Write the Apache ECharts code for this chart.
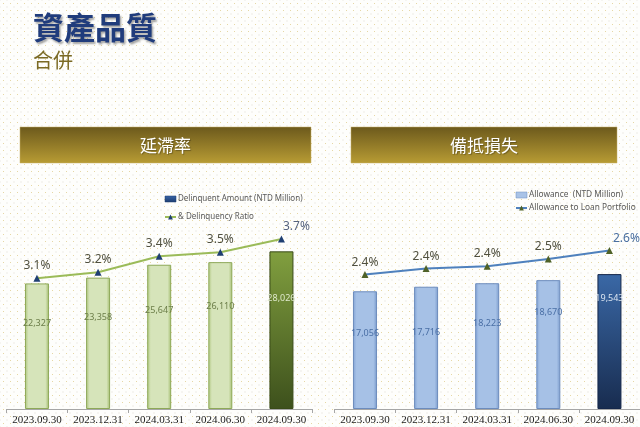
<!DOCTYPE html>
<html>
<head>
<meta charset="utf-8">
<script src="https://cdn.jsdelivr.net/npm/echarts@6/dist/echarts.min.js"></script>
<style>
html,body{margin:0;padding:0;width:640px;height:427px;overflow:hidden;}
body{
  background-color:#fefefc;
  background-image:
    radial-gradient(circle, #e6d7a4 0.7px, rgba(255,255,255,0) 1px),
    radial-gradient(circle, #dedbd0 0.7px, rgba(255,255,255,0) 1px);
  background-size:7px 7px, 7px 7px;
  background-position:0 0, 3.5px 3.5px;
}
#chart{width:640px;height:427px;}
</style>
</head>
<body>
<div id="chart"></div>
<script>
// ---- data ----
var categories = ['2023.09.30', '2023.12.31', '2024.03.31', '2024.06.30', '2024.09.30'];
var delinquentAmount = [22327, 23358, 25647, 26110, 28026];
var delinquencyRatio = [3.11, 3.20, 3.44, 3.50, 3.70];
var allowanceAmount = [17056, 17716, 18223, 18670, 19543];
var allowanceRatio = [2.37, 2.42, 2.44, 2.50, 2.57];
var pageTitle = '資產品質';
var pageSubtitle = '合併';
var leftHeader = '延滯率';
var rightHeader = '備抵損失';
var leftBarName = 'Delinquent Amount (NTD Million)';
var leftLineName = '& Delinquency Ratio';
var rightBarName = 'Allowance  (NTD Million)';
var rightLineName = 'Allowance to Loan Portfolio';

// ---- styles ----
var leftLabelPos = ['32%', '30%', '32%', '30%', '30%'];
var rightLabelPos = ['36%', '37%', '32%', '25%', '18%'];

function grad(stops, horiz) {
  return new echarts.graphic.LinearGradient(0, 0, horiz ? 1 : 0, horiz ? 0 : 1,
    stops.map(function (s) { return { offset: s[0], color: s[1] }; }));
}
var greenLight = grad([[0, '#adc57c'], [0.15, '#d6e4ba'], [0.85, '#d6e4ba'], [1, '#a3bc6e']], true);
var greenDark = grad([[0, '#819f3f'], [1, '#3d501c']]);
var blueLight = grad([[0, '#83a4d6'], [0.15, '#a6c1e6'], [0.85, '#a6c1e6'], [1, '#7b9ccd']], true);
var blueDark = grad([[0, '#3a68a6'], [1, '#182c4f']]);

function fmtNum(v) { return v.toLocaleString('en-US'); }

function barData(values, posArr, lightFill, darkFill, lightBorder, darkBorder, lightText, darkText) {
  return values.map(function (v, i) {
    var last = i === values.length - 1;
    return {
      value: v,
      itemStyle: { color: last ? darkFill : lightFill, borderColor: last ? darkBorder : lightBorder, borderWidth: 1 },
      label: { position: ['50%', posArr[i]], color: last ? darkText : lightText }
    };
  });
}
function lineData(values, lastColor, lastOffset) {
  return values.map(function (v, i) {
    var last = i === values.length - 1;
    var d = { value: v };
    if (last) d.label = { color: lastColor, offset: [lastOffset, 0] };
    return d;
  });
}

var chart = echarts.init(document.getElementById('chart'), null, { renderer: 'canvas' });

var axisCommon = {
  type: 'category',
  data: categories,
  axisLine: { lineStyle: { color: '#a6a6a6', width: 1 } },
  axisTick: { show: true, length: 4, lineStyle: { color: '#a6a6a6' } },
  axisLabel: { fontFamily: 'Liberation Serif', fontSize: 11, color: '#1a1a1a', margin: 6, interval: 0 }
};

var option = {
  animation: false,
  backgroundColor: 'transparent',
  grid: [
    { left: 6.4, width: 305.6, top: 184, height: 225 },
    { left: 334.4, width: 305.6, top: 184, height: 225 }
  ],
  xAxis: [
    Object.assign({ gridIndex: 0 }, axisCommon),
    Object.assign({ gridIndex: 1 }, axisCommon)
  ],
  yAxis: [
    { gridIndex: 0, type: 'value', min: 0, max: 40000, show: false },
    { gridIndex: 0, type: 'value', min: 1.15, max: 4.525, show: false },
    { gridIndex: 1, type: 'value', min: 0, max: 32600, show: false },
    { gridIndex: 1, type: 'value', min: 1.25, max: 3.125, show: false }
  ],
  legend: [
    {
      orient: 'vertical', left: 164, top: 195, padding: 0, itemGap: 10, itemWidth: 11, itemHeight: 6,
      textStyle: { fontFamily: 'Noto Sans', fontSize: 8, color: '#595959', padding: [0, 0, 0, -3] },
      data: [
        { name: leftBarName, icon: 'rect', itemStyle: { color: grad([[0, '#3a67a8'], [1, '#1c3c70']]), borderColor: '#1c3c70', borderWidth: 0.5 } },
        { name: leftLineName }
      ]
    },
    {
      orient: 'vertical', left: 515, top: 191, padding: 0, itemGap: 5, itemWidth: 11, itemHeight: 6,
      textStyle: { fontFamily: 'Noto Sans', fontSize: 8.3, color: '#595959', padding: [0, 0, 0, -3] },
      data: [
        { name: rightBarName, icon: 'rect', itemStyle: { color: '#a9c3e7', borderColor: '#6f8fbf', borderWidth: 0.5 } },
        { name: rightLineName }
      ]
    }
  ],
  series: [
    {
      name: leftBarName, type: 'bar', xAxisIndex: 0, yAxisIndex: 0, barWidth: 24,
      itemStyle: { color: '#d8e5be' },
      label: { show: true, formatter: function (p) { return fmtNum(p.value); }, align: 'center', verticalAlign: 'middle', fontFamily: 'Noto Sans', fontSize: 9 },
      data: barData(delinquentAmount, leftLabelPos, greenLight, greenDark, '#8ea958', '#394b18', '#6b7d48', '#dfe9cb')
    },
    {
      name: leftLineName, type: 'line', xAxisIndex: 0, yAxisIndex: 1,
      color: '#9bbb59',
      lineStyle: { color: '#9bbb59', width: 2 },
      symbol: 'triangle', symbolSize: 7,
      itemStyle: { color: '#1f3f72' },
      label: { show: true, position: 'top', distance: 3, formatter: function (p) { return p.value.toFixed(1) + '%'; }, fontFamily: 'Noto Sans', fontSize: 12, color: '#50503f' },
      data: lineData(delinquencyRatio, '#56637e', 15)
    },
    {
      name: rightBarName, type: 'bar', xAxisIndex: 1, yAxisIndex: 2, barWidth: 24,
      itemStyle: { color: '#a9c3e7' },
      label: { show: true, formatter: function (p) { return fmtNum(p.value); }, align: 'center', verticalAlign: 'middle', fontFamily: 'Noto Sans', fontSize: 9 },
      data: barData(allowanceAmount, rightLabelPos, blueLight, blueDark, '#6c8cbd', '#15274a', '#4a6fa5', '#dce6f2')
    },
    {
      name: rightLineName, type: 'line', xAxisIndex: 1, yAxisIndex: 3,
      color: '#4f81bd',
      lineStyle: { color: '#4f81bd', width: 2 },
      symbol: 'triangle', symbolSize: 7,
      itemStyle: { color: '#4f6228' },
      label: { show: true, position: 'top', distance: 3, formatter: function (p) { return p.value.toFixed(1) + '%'; }, fontFamily: 'Noto Sans', fontSize: 12, color: '#50503f' },
      data: lineData(allowanceRatio, '#4a6fa0', 17)
    }
  ],
  graphic: [
    { type: 'text', left: 33, top: 12, style: { text: pageTitle, font: 'bold 31px "Noto Sans CJK TC"', fill: '#203c7c', textShadowColor: 'rgba(0,0,0,0.35)', textShadowOffsetX: 1.5, textShadowOffsetY: 1.5, textShadowBlur: 2 } },
    { type: 'text', left: 33, top: 50, style: { text: pageSubtitle, font: '20px "Noto Sans CJK TC"', fill: '#7b6a24' } },
    { type: 'rect', shape: { x: 20, y: 127, width: 291, height: 36 }, style: { fill: grad([[0, '#6c591c'], [1, '#b89c34']]), stroke: '#c9b36a', lineWidth: 0.5 } },
    { type: 'text', style: { text: leftHeader, x: 165.5, y: 146, align: 'center', verticalAlign: 'middle', font: '17px "Noto Sans CJK TC"', fill: '#ffffff', textShadowColor: 'rgba(0,0,0,0.3)', textShadowOffsetX: 1, textShadowOffsetY: 1, textShadowBlur: 1 } },
    { type: 'rect', shape: { x: 351, y: 127, width: 266, height: 36 }, style: { fill: grad([[0, '#6c591c'], [1, '#b89c34']]), stroke: '#c9b36a', lineWidth: 0.5 } },
    { type: 'text', style: { text: rightHeader, x: 484, y: 146, align: 'center', verticalAlign: 'middle', font: '17px "Noto Sans CJK TC"', fill: '#ffffff', textShadowColor: 'rgba(0,0,0,0.3)', textShadowOffsetX: 1, textShadowOffsetY: 1, textShadowBlur: 1 } }
  ]
};
chart.setOption(option);
</script>
</body>
</html>
